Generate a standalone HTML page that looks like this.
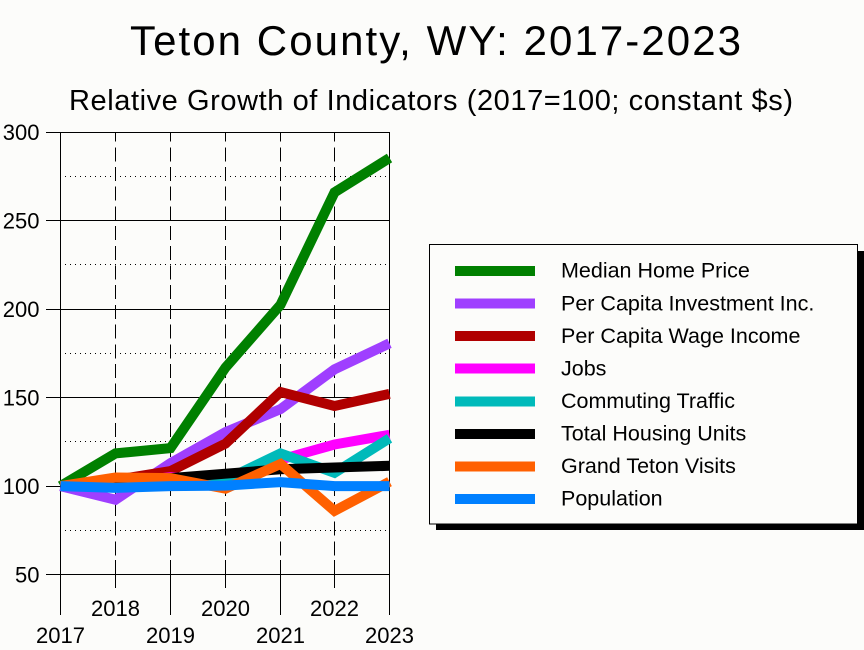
<!DOCTYPE html>
<html><head><meta charset="utf-8"><style>
html,body{margin:0;padding:0;background:#fcfcfa;}
svg{display:block;}
text{font-family:"Liberation Sans",Arial,sans-serif;fill:#000;}
</style></head><body>
<svg width="864" height="650" viewBox="0 0 864 650" xmlns="http://www.w3.org/2000/svg">
<rect x="0" y="0" width="864" height="650" fill="#fcfcfa"/>
<text x="130" y="55" font-size="42" textLength="611" lengthAdjust="spacing">Teton County, WY: 2017-2023</text>
<text x="69" y="110" font-size="29" textLength="724" lengthAdjust="spacing">Relative Growth of Indicators (2017=100; constant $s)</text>

<g shape-rendering="crispEdges" stroke="#000" stroke-width="1" fill="none">
<!-- major horizontal -->
<line x1="46" y1="132.5" x2="390" y2="132.5"/>
<line x1="46" y1="220.5" x2="390" y2="220.5"/>
<line x1="46" y1="309.5" x2="390" y2="309.5"/>
<line x1="46" y1="397.5" x2="390" y2="397.5"/>
<line x1="46" y1="486.5" x2="390" y2="486.5"/>
<line x1="46" y1="574.5" x2="390" y2="574.5"/>
<!-- minor dotted -->
<g stroke-dasharray="1 4">
<line x1="60" y1="176.5" x2="390" y2="176.5"/>
<line x1="60" y1="264.5" x2="390" y2="264.5"/>
<line x1="60" y1="353.5" x2="390" y2="353.5"/>
<line x1="60" y1="441.5" x2="390" y2="441.5"/>
<line x1="60" y1="530.5" x2="390" y2="530.5"/>
</g>
<!-- vertical edges -->
<line x1="60.5" y1="132" x2="60.5" y2="615"/>
<line x1="389.5" y1="132" x2="389.5" y2="615"/>
<!-- dashed interior -->
<g stroke-dasharray="14 5.7" stroke-dashoffset="4.4">
<line x1="115.5" y1="132" x2="115.5" y2="574"/>
<line x1="170.5" y1="132" x2="170.5" y2="574"/>
<line x1="225.5" y1="132" x2="225.5" y2="574"/>
<line x1="280.5" y1="132" x2="280.5" y2="574"/>
<line x1="334.5" y1="132" x2="334.5" y2="574"/>
</g>
<!-- ticks below -->
<line x1="115.5" y1="560" x2="115.5" y2="588"/>
<line x1="170.5" y1="560" x2="170.5" y2="615"/>
<line x1="225.5" y1="560" x2="225.5" y2="588"/>
<line x1="280.5" y1="560" x2="280.5" y2="615"/>
<line x1="334.5" y1="560" x2="334.5" y2="588"/>
</g>

<!-- y labels -->
<g font-size="22" text-anchor="end">
<text x="39.5" y="140">300</text>
<text x="39.5" y="228.5">250</text>
<text x="39.5" y="317">200</text>
<text x="39.5" y="405.5">150</text>
<text x="39.5" y="494">100</text>
<text x="39.5" y="582.5">50</text>
</g>
<!-- x labels -->
<g font-size="22" text-anchor="middle">
<text x="60.5" y="643">2017</text>
<text x="115.5" y="616">2018</text>
<text x="170.5" y="643">2019</text>
<text x="225.5" y="616">2020</text>
<text x="280.5" y="643">2021</text>
<text x="334.5" y="616">2022</text>
<text x="389.5" y="643">2023</text>
</g>

<!-- series -->
<g fill="none" stroke-width="10" stroke-linejoin="miter" stroke-linecap="butt">
<polyline stroke="#008000" points="60.5,486.1 115.5,453.4 170.5,448.1 225.5,367.6 280.5,304.8 334.5,192.4 389.5,158.0"/>
<polyline stroke="#9f3fff" points="60.5,486.1 115.5,499.7 170.5,463.1 225.5,432.1 280.5,409.1 334.5,369.3 389.5,343.3"/>
<polyline stroke="#b00000" points="60.5,486.1 115.5,479.9 170.5,471.1 225.5,443.6 280.5,392.0 334.5,406.0 389.5,393.9"/>
<polyline stroke="#ff00ff" points="60.5,486.1 115.5,482.6 170.5,477.3 225.5,479.0 280.5,459.6 334.5,444.5 389.5,434.8"/>
<polyline stroke="#00baba" points="60.5,486.1 115.5,484.3 170.5,482.6 225.5,479.9 280.5,453.4 334.5,472.8 389.5,438.3"/>
<polyline stroke="#000000" points="60.5,486.1 115.5,484.3 170.5,478.1 225.5,473.7 280.5,469.3 334.5,467.5 389.5,465.8"/>
<polyline stroke="#ff6000" points="60.5,486.1 115.5,477.5 170.5,478.1 225.5,488.7 280.5,464.0 334.5,510.9 389.5,481.7"/>
<polyline stroke="#0080ff" points="60.5,486.1 115.5,487.9 170.5,486.1 225.5,485.6 280.5,482.1 334.5,486.1 389.5,486.1"/>
</g>

<!-- legend -->
<rect x="436" y="251" width="428" height="279" fill="#000"/>
<rect x="429.5" y="244.5" width="428" height="279.5" fill="#fcfcfa" stroke="#000" stroke-width="1" shape-rendering="crispEdges"/>
<g shape-rendering="crispEdges">
<rect x="455" y="266" width="80" height="10" fill="#008000"/>
<rect x="455" y="298.6" width="80" height="10" fill="#9f3fff"/>
<rect x="455" y="331.1" width="80" height="10" fill="#b00000"/>
<rect x="455" y="363.7" width="80" height="10" fill="#ff00ff"/>
<rect x="455" y="396.3" width="80" height="10" fill="#00baba"/>
<rect x="455" y="428.9" width="80" height="10" fill="#000000"/>
<rect x="455" y="461.4" width="80" height="10" fill="#ff6000"/>
<rect x="455" y="494" width="80" height="10" fill="#0080ff"/>
</g>
<g font-size="21.5">
<text x="561" y="277.7">Median Home Price</text>
<text x="561" y="310.3">Per Capita Investment Inc.</text>
<text x="561" y="342.8">Per Capita Wage Income</text>
<text x="561" y="375.4">Jobs</text>
<text x="561" y="408">Commuting Traffic</text>
<text x="561" y="440.6">Total Housing Units</text>
<text x="561" y="473.1">Grand Teton Visits</text>
<text x="561" y="505.7">Population</text>
</g>
</svg>
</body></html>
